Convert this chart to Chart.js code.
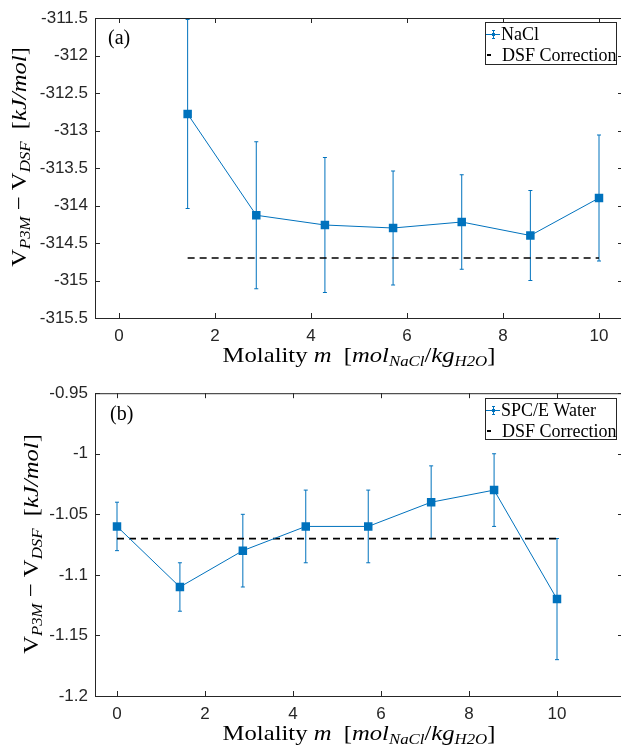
<!DOCTYPE html>
<html>
<head>
<meta charset="utf-8">
<script src="https://cdn.jsdelivr.net/npm/chart.js@4/dist/chart.umd.min.js"></script>
<style>
html, body { margin: 0; padding: 0; background: #fff; overflow: hidden; }
#wrap { position: relative; width: 621px; height: 747px; overflow: hidden; }
canvas { position: absolute; left: 0; }
#chartA { top: 0; }
#chartB { top: 376px; }
</style>
</head>
<body>
<div id="wrap">
  <canvas id="chartA" width="640" height="376"></canvas>
  <canvas id="chartB" width="640" height="371"></canvas>
</div>
<script>
// (a) NaCl
const molA = [1.43, 2.86, 4.29, 5.71, 7.14, 8.57, 10];
const valA = [-312.78, -314.13, -314.26, -314.30, -314.22, -314.40, -313.90];
const errA = [1.26, 0.98, 0.90, 0.76, 0.63, 0.60, 0.84];
const dsfA = -314.7;
const xTicksA = [0, 2, 4, 6, 8, 10];
const yTicksA = [-311.5, -312, -312.5, -313, -313.5, -314, -314.5, -315, -315.5];

// (b) SPC/E water
const molB = [0, 1.43, 2.86, 4.29, 5.71, 7.14, 8.57, 10];
const valB = [-1.06, -1.11, -1.08, -1.06, -1.06, -1.04, -1.03, -1.12];
const errB = [0.02, 0.02, 0.03, 0.03, 0.03, 0.03, 0.03, 0.05];
const dsfB = -1.07;
const xTicksB = [0, 2, 4, 6, 8, 10];
const yTicksB = [-0.95, -1, -1.05, -1.1, -1.15, -1.2];

const BLUE = '#0072BD';
const AXC = '#262626';
const SERIF = '"Liberation Serif", "Times New Roman", serif';
const SANS = '"Liberation Sans", Helvetica, Arial, sans-serif';
const STRETCH = 1.12; // latex-ish labels are wider than Times

// draws a row of text pieces [text, font, dy], centred on x
function drawRich(ctx, parts, x, y) {
  let total = 0;
  parts.forEach(p => { ctx.font = p[1]; total += ctx.measureText(p[0]).width; });
  ctx.save();
  ctx.translate(x, y);
  ctx.scale(STRETCH, 1);
  let cx = -total / 2;
  ctx.textAlign = 'left';
  ctx.textBaseline = 'alphabetic';
  parts.forEach(p => {
    ctx.font = p[1];
    ctx.fillText(p[0], cx, p[2] || 0);
    cx += ctx.measureText(p[0]).width;
  });
  ctx.restore();
}

const yTitle = [
  ['V', '22px ' + SERIF], ['P3M', 'italic 15px ' + SERIF, 4],
  [' \u2212 ', '22px ' + SERIF],
  ['V', '22px ' + SERIF], ['DSF', 'italic 15px ' + SERIF, 4],
  ['  [', '22px ' + SERIF], ['kJ/mol', 'italic 22px ' + SERIF], [']', '22px ' + SERIF]
];
const xTitle = [
  ['Molality ', '22px ' + SERIF], ['m', 'italic 22px ' + SERIF],
  ['  [', '22px ' + SERIF], ['mol', 'italic 22px ' + SERIF], ['NaCl', 'italic 15px ' + SERIF, 4],
  ['/', '22px ' + SERIF], ['kg', 'italic 22px ' + SERIF], ['H2O', 'italic 15px ' + SERIF, 4],
  [']', '22px ' + SERIF]
];

const matlabPlugin = {
  id: 'matlab',
  beforeDatasetsDraw(chart, args, o) {
    const ctx = chart.ctx, xs = chart.scales.x, ys = chart.scales.y, a = chart.chartArea;
    ctx.save();
    ctx.beginPath();
    ctx.rect(a.left, a.top, a.right - a.left, a.bottom - a.top);
    ctx.clip();
    ctx.strokeStyle = BLUE;
    ctx.lineWidth = 1;
    o.mol.forEach((m, i) => {
      const px = xs.getPixelForValue(m);
      const y1 = ys.getPixelForValue(o.val[i] + o.err[i]);
      const y2 = ys.getPixelForValue(o.val[i] - o.err[i]);
      ctx.beginPath();
      ctx.moveTo(px, y1); ctx.lineTo(px, y2);
      ctx.moveTo(px - 2, y1); ctx.lineTo(px + 2, y1);
      ctx.moveTo(px - 2, y2); ctx.lineTo(px + 2, y2);
      ctx.stroke();
    });
    ctx.restore();
  },
  afterDraw(chart, args, o) {
    const ctx = chart.ctx, xs = chart.scales.x, ys = chart.scales.y, a = chart.chartArea;
    ctx.save();
    // box and inward ticks
    ctx.strokeStyle = AXC;
    ctx.lineWidth = 1;
    ctx.strokeRect(a.left + 0.5, a.top + 0.5, a.right - a.left, a.bottom - a.top);
    ctx.beginPath();
    xs.ticks.forEach(t => {
      const px = Math.round(xs.getPixelForValue(t.value)) + 0.5;
      ctx.moveTo(px, a.bottom); ctx.lineTo(px, a.bottom - 5);
      ctx.moveTo(px, a.top); ctx.lineTo(px, a.top + 5);
    });
    ys.ticks.forEach(t => {
      const py = Math.round(ys.getPixelForValue(t.value)) + 0.5;
      ctx.moveTo(a.left, py); ctx.lineTo(a.left + 5, py);
      ctx.moveTo(a.right, py); ctx.lineTo(a.right - 5, py);
    });
    ctx.stroke();

    ctx.fillStyle = '#000';
    // panel label
    ctx.font = '20px ' + SERIF;
    ctx.textAlign = 'left';
    ctx.textBaseline = 'alphabetic';
    ctx.fillText(o.panel, o.panelX, 44);

    // axis titles
    drawRich(ctx, xTitle, (a.left + a.right) / 2, o.xTitleY);
    ctx.save();
    ctx.translate(o.yTitleX, o.yTitleY);
    ctx.rotate(-Math.PI / 2);
    drawRich(ctx, yTitle, 0, 0);
    ctx.restore();

    // legend
    const b = o.legendBox;
    ctx.fillStyle = '#fff';
    ctx.fillRect(b[0], b[1], b[2], b[3]);
    ctx.strokeStyle = AXC;
    ctx.strokeRect(b[0] + 0.5, b[1] + 0.5, b[2], b[3]);
    const r1 = b[1] + 12.5, r2 = b[1] + 33;
    ctx.strokeStyle = BLUE;
    ctx.lineWidth = 1;
    ctx.beginPath();
    ctx.moveTo(b[0] + 1, r1); ctx.lineTo(b[0] + 15, r1);
    ctx.moveTo(b[0] + 8.5, r1 - 4); ctx.lineTo(b[0] + 8.5, r1 + 4);
    ctx.moveTo(b[0] + 7, r1 - 4); ctx.lineTo(b[0] + 10, r1 - 4);
    ctx.moveTo(b[0] + 7, r1 + 4); ctx.lineTo(b[0] + 10, r1 + 4);
    ctx.stroke();
    ctx.fillStyle = BLUE;
    ctx.fillRect(b[0] + 7, r1 - 1.5, 3, 3);
    ctx.strokeStyle = '#000';
    ctx.lineWidth = 2;
    ctx.beginPath();
    ctx.moveTo(b[0] + 2, r2); ctx.lineTo(b[0] + 6, r2);
    ctx.stroke();
    ctx.fillStyle = '#000';
    ctx.font = '18px ' + SERIF;
    ctx.textBaseline = 'middle';
    ctx.fillText(o.legendLabel, b[0] + 16, r1 + 1);
    ctx.fillText('DSF Correction', b[0] + 17, r2 + 1);
    ctx.restore();
  }
};

function makeChart(id, mol, val, err, dsf, xMax, yMin, yMax, xTicks, yTicks, padTop, xHeight, plug) {
  const ptsLine = mol.map((m, i) => ({ x: m, y: val[i] }));
  const ptsDsf = [{ x: mol[0], y: dsf }, { x: mol[mol.length - 1], y: dsf }];
  plug.mol = mol; plug.val = val; plug.err = err;
  return new Chart(document.getElementById(id), {
    type: 'line',
    data: {
      datasets: [{
        data: ptsLine,
        borderColor: BLUE,
        backgroundColor: BLUE,
        borderWidth: 1,
        pointStyle: 'rect',
        pointRadius: 6,
        pointBackgroundColor: BLUE,
        pointBorderColor: BLUE,
        pointBorderWidth: 0,
        tension: 0
      }, {
        data: ptsDsf,
        borderColor: '#000',
        borderWidth: 1.7,
        borderDash: [7, 5],
        pointRadius: 0,
        tension: 0
      }]
    },
    options: {
      responsive: false,
      animation: false,
      events: [],
      layout: { padding: { top: padTop, right: 17, left: 0, bottom: 0 } },
      plugins: { legend: { display: false }, tooltip: { enabled: false }, matlab: plug },
      scales: {
        x: {
          type: 'linear', min: -0.5, max: xMax,
          afterBuildTicks: s => { s.ticks = xTicks.map(v => ({ value: v })); },
          afterFit: s => { s.height = xHeight; },
          grid: { display: false, drawTicks: false },
          border: { display: false },
          ticks: { font: { family: SANS, size: 17 }, color: AXC, padding: 8, maxRotation: 0, callback: v => String(v) }
        },
        y: {
          type: 'linear', min: yMin, max: yMax,
          afterBuildTicks: s => { s.ticks = yTicks.map(v => ({ value: v })); },
          afterFit: s => { s.width = 95; },
          grid: { display: false, drawTicks: false },
          border: { display: false },
          ticks: { font: { family: SANS, size: 17 }, color: AXC, padding: 7, callback: v => String(v) }
        }
      }
    },
    plugins: [matlabPlugin]
  });
}

makeChart('chartA', molA, valA, errA, dsfA, 10.5, -315.5, -311.5, xTicksA, yTicksA, 18, 58, {
  panel: '(a)', panelX: 108, xTitleY: 362, yTitleX: 26, yTitleY: 157,
  legendLabel: 'NaCl', legendBox: [485, 22, 131, 42]
});
makeChart('chartB', molB, valB, errB, dsfB, 11.5, -1.2, -0.95, xTicksB, yTicksB, 17, 51, {
  panel: '(b)', panelX: 110, xTitleY: 364, yTitleX: 38, yTitleY: 168,
  legendLabel: 'SPC/E Water', legendBox: [485, 22, 131, 41]
});
</script>
</body>
</html>
